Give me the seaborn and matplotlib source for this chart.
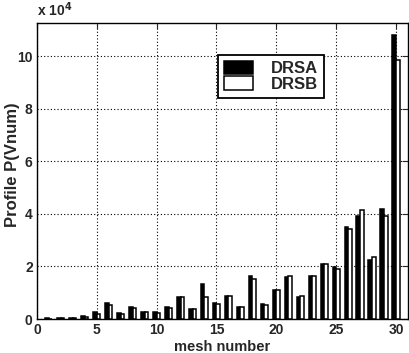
import numpy as np
import pandas as pd
import matplotlib
matplotlib.use("Agg")
import matplotlib.pyplot as plt
import seaborn as sns

mesh = list(range(1, 31))
drsa = [0.02, 0.03, 0.05, 0.12, 0.26, 0.59, 0.21, 0.46, 0.28, 0.25,
        0.44, 0.84, 0.37, 1.33, 0.59, 0.89, 0.45, 1.62, 0.57, 1.12,
        1.60, 0.83, 1.62, 2.10, 1.97, 3.50, 3.90, 2.25, 4.20, 10.80]
drsb = [0.01, 0.02, 0.03, 0.07, 0.20, 0.53, 0.18, 0.40, 0.27, 0.22,
        0.42, 0.82, 0.38, 0.83, 0.57, 0.87, 0.45, 1.53, 0.55, 1.10,
        1.62, 0.86, 1.62, 2.10, 1.91, 3.43, 4.15, 2.35, 3.92, 9.85]
series_names = ["DRSA", "DRSB"]
xticks = [0, 5, 10, 15, 20, 25, 30]
yticks = [0, 2, 4, 6, 8, 10]

df = pd.DataFrame({
    "mesh": mesh * 2,
    "value": drsa + drsb,
    "series": [series_names[0]] * len(mesh) + [series_names[1]] * len(mesh),
})

sns.set_style("white")
plt.rcParams["font.family"] = ["Liberation Sans", "DejaVu Sans"]
plt.rcParams["font.weight"] = "bold"

fig = plt.figure(figsize=(4.10, 3.53), dpi=100)
ax = fig.add_axes([0.090, 0.0963, 0.905, 0.838])

sns.barplot(data=df, x="mesh", y="value", hue="series", native_scale=True,
            width=0.6, palette=["black", "white"], edgecolor="black",
            linewidth=1.1, ax=ax, errorbar=None, zorder=3)

ax.set_xlim(0, 31)
ax.set_ylim(0, 11.25)
ax.set_xticks(xticks)
ax.set_yticks(yticks)
ax.set_xticklabels([str(t) for t in xticks], fontsize=10, fontweight="bold")
ax.set_yticklabels([str(t) for t in yticks], fontsize=10, fontweight="bold")
ax.tick_params(direction="in", top=True, right=True, length=4, width=0.8, pad=3)
ax.grid(True, linestyle=(0, (1, 2)), color="black", linewidth=0.8, zorder=0)
ax.set_axisbelow(True)
for s in ax.spines.values():
    s.set_color("black")
    s.set_linewidth(1.0)

ax.set_xlabel("mesh number", fontsize=10.5, fontweight="bold", labelpad=2)
ax.set_ylabel("Profile P(Vnum)", fontsize=12, fontweight="bold")
ax.yaxis.set_label_coords(-0.046, 0.52)
ax.text(0.0, 1.015, "x 10$^4$", transform=ax.transAxes, fontsize=10,
        fontweight="bold", ha="left", va="bottom")

handles, labels = ax.get_legend_handles_labels()
leg = ax.legend(handles, labels, loc="upper left", bbox_to_anchor=(0.488, 0.892),
                frameon=True, fancybox=False, edgecolor="black", framealpha=1,
                fontsize=12, handlelength=1.75, handleheight=0.87,
                labelspacing=0.0, handletextpad=1.1, borderpad=0.35,
                borderaxespad=0.0)
leg.get_frame().set_linewidth(1.3)
for t in leg.get_texts():
    t.set_fontweight("bold")

fig.savefig("out.png", dpi=100)
